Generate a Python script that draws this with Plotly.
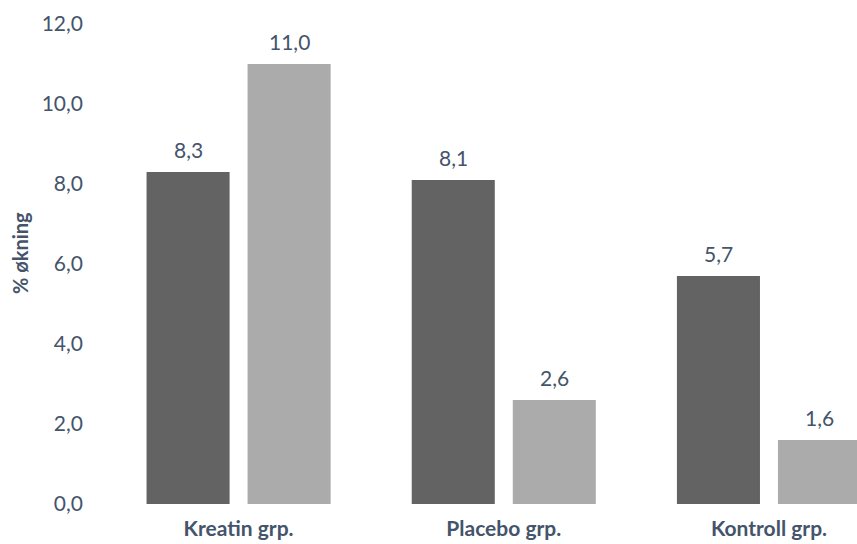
import plotly.graph_objects as go

categories = ["Kreatin grp.", "Placebo grp.", "Kontroll grp."]
series_a = [8.3, 8.1, 5.7]
series_b = [11.0, 2.6, 1.6]
y_ticks = [0, 2, 4, 6, 8, 10, 12]
y_title = "% økning"

TXT = "#44546A"
FONT = "Lato, Carlito, Calibri, sans-serif"

fig = go.Figure()
fig.add_trace(go.Bar(x=categories, y=series_a, name="A",
                     marker=dict(color="#636363", line=dict(width=0))))
fig.add_trace(go.Bar(x=categories, y=series_b, name="B",
                     marker=dict(color="#ababab", line=dict(width=0))))

def fmt(v):
    return f"{v:.1f}".replace(".", ",")

annos = []
for cat, a, b in zip(categories, series_a, series_b):
    for v, dx in ((a, -50.5), (b, 50.5)):
        annos.append(dict(x=cat, y=v, xref="x", yref="y", text=fmt(v),
                          showarrow=False, xshift=dx, yshift=23,
                          yanchor="middle",
                          font=dict(family=FONT, size=21, color=TXT)))
annos.append(dict(x=0, y=0.5, xref="paper", yref="paper", text=f"<b>{y_title}</b>",
                  showarrow=False, textangle=-90, xshift=-86, yshift=11,
                  xanchor="center", yanchor="middle",
                  font=dict(family=FONT, size=20, color=TXT)))

fig.update_layout(
    width=857, height=544,
    margin=dict(l=106, r=0, t=24, b=40),
    paper_bgcolor="white", plot_bgcolor="white",
    barmode="group", bargap=0.238, bargroupgap=0.178,
    showlegend=False,
    separators=",.",
    annotations=annos,
    xaxis=dict(range=[-0.5, 2.332], showline=False, showgrid=False, ticks="",
               tickfont=dict(family=FONT, size=21, color=TXT, weight="bold"),
               ticklabelstandoff=10),
    yaxis=dict(range=[0, 12], tickvals=y_ticks, tickformat=".1f",
               showgrid=False, zeroline=False, showline=False, ticks="",
               tickfont=dict(family=FONT, size=21, color=TXT),
               ticklabelstandoff=22),
)

fig.write_html("out.html")
